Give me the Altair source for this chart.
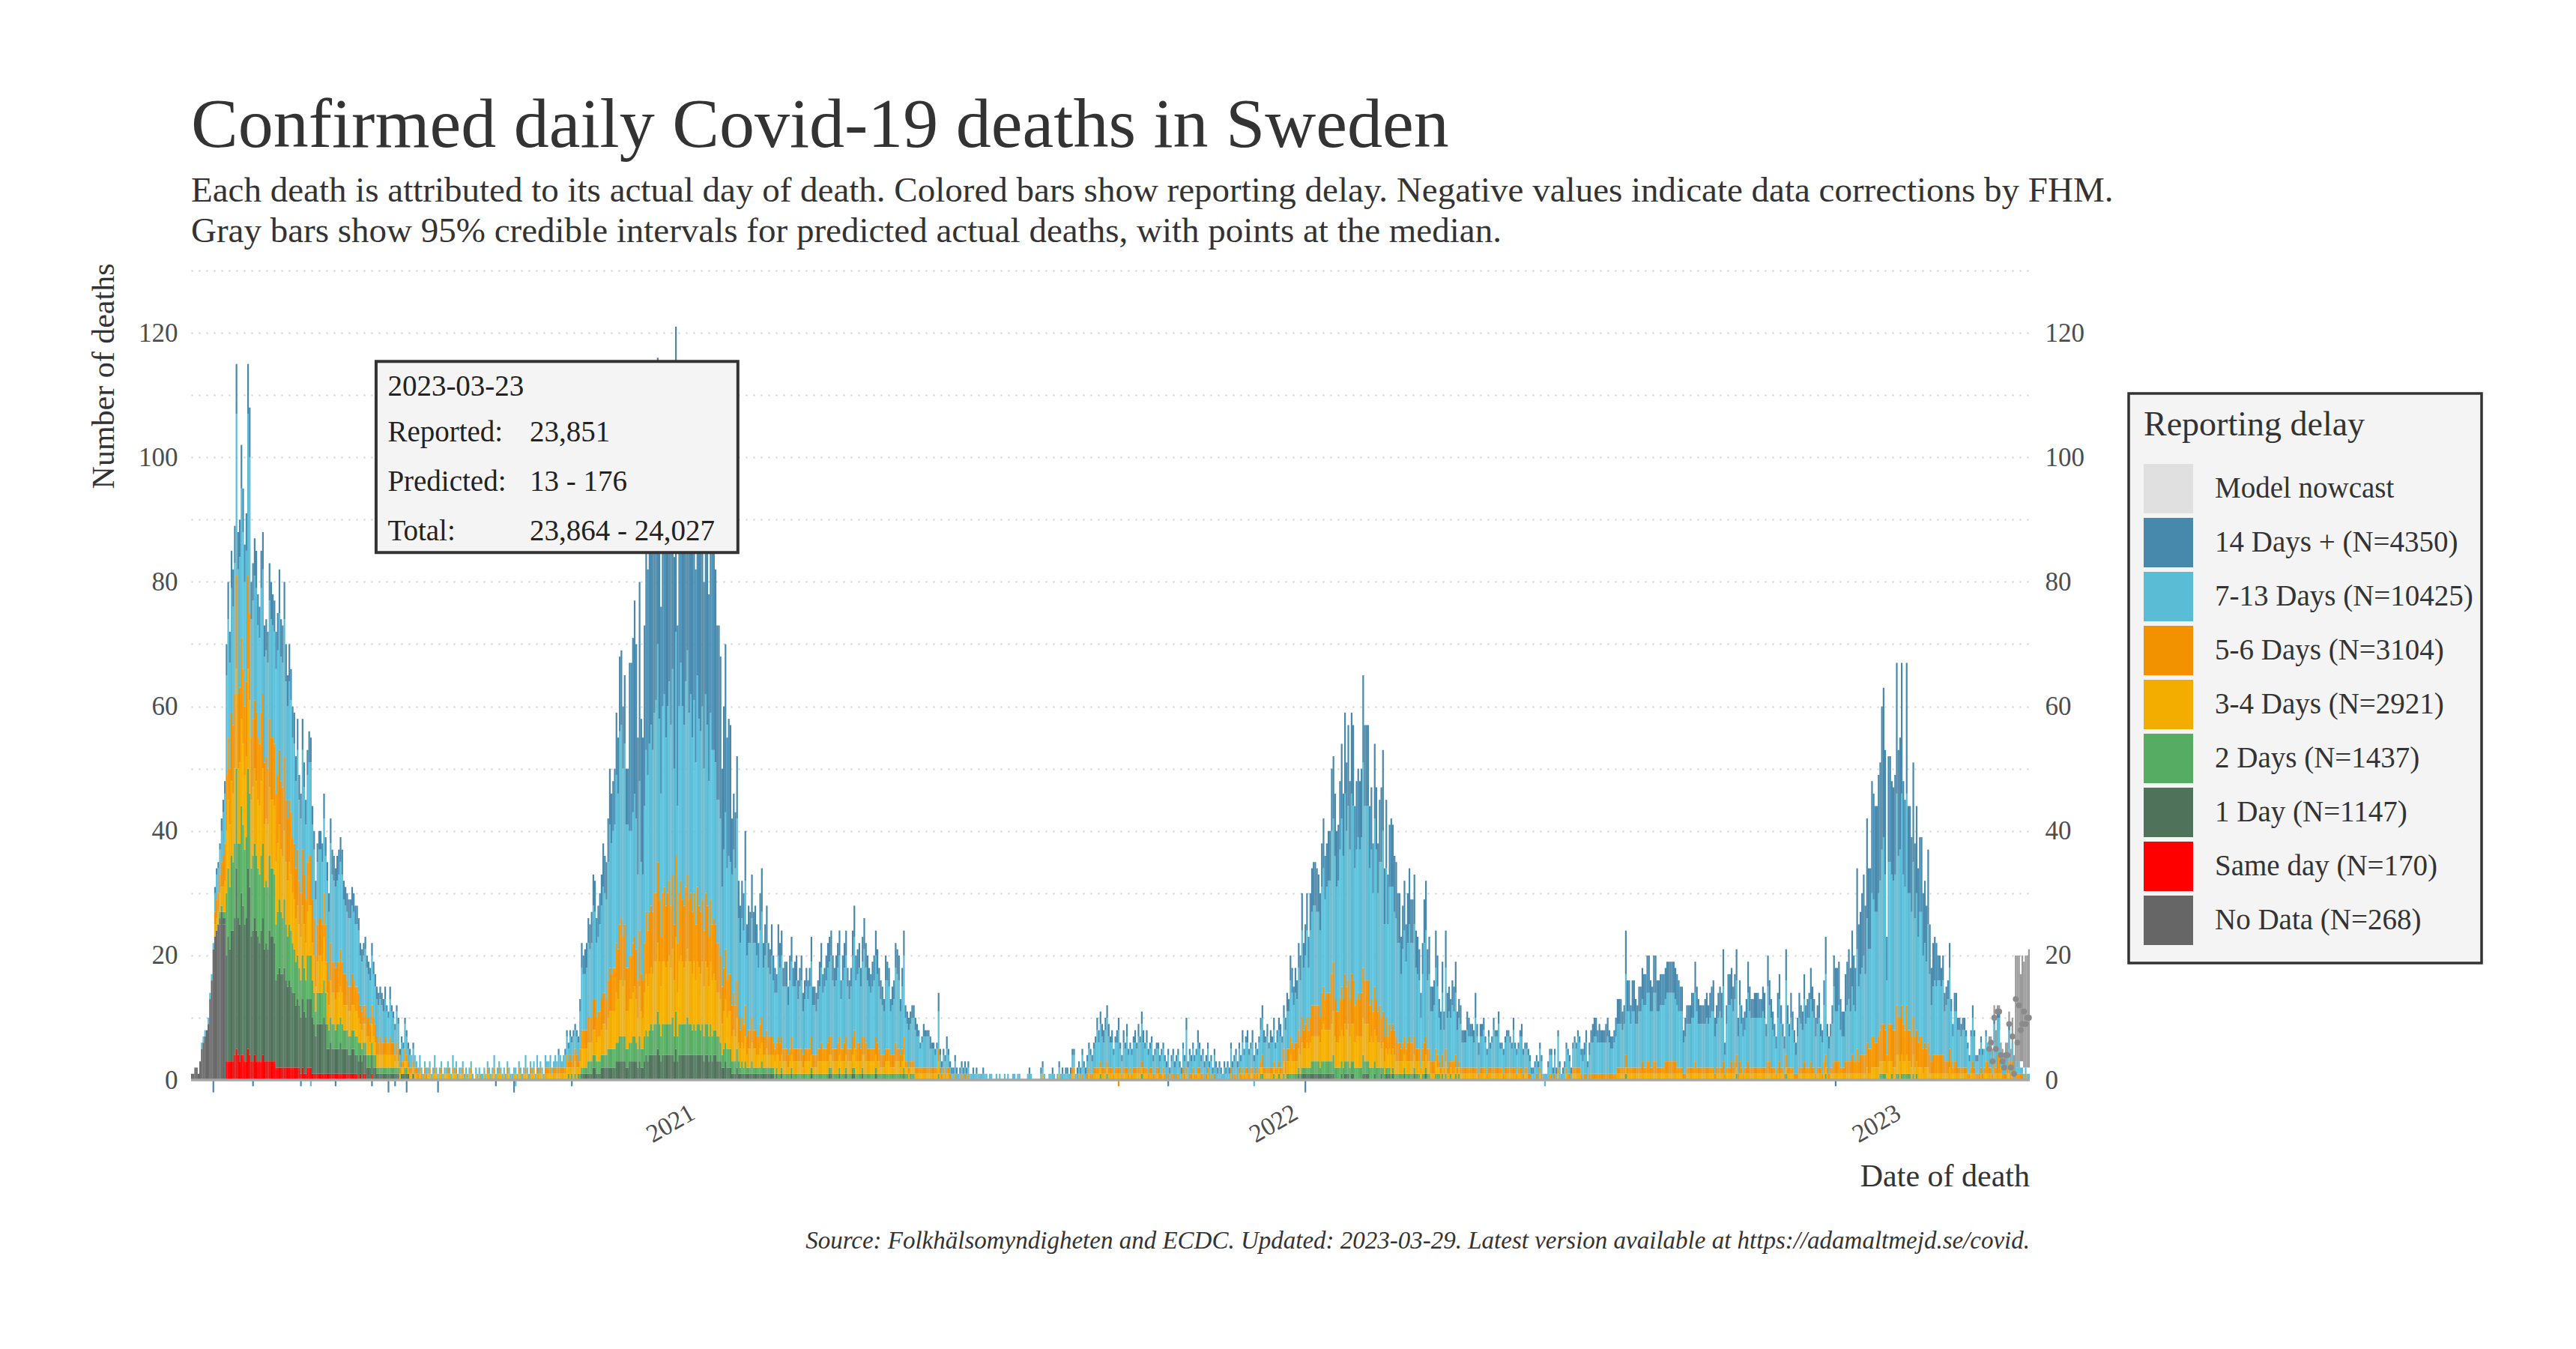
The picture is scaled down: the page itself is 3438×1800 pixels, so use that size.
import altair as alt
import numpy as np
import pandas as pd

FONT = "Liberation Serif"
START = "2020-03-11"

# ---- daily reported deaths by date of death ----
totals_2020 = [
    1, 1, 2, 2, 1, 3, 6, 7, 8, 8,
    10, 14, 17, 22, 31, 34, 35, 38, 42, 45,
    48, 70, 80, 72, 85, 82, 89, 115, 88, 90,
    102, 95, 86, 91, 115, 108, 80, 83, 87, 85,
    78, 76, 85, 88, 73, 74, 72, 83, 80, 78,
    77, 72, 75, 82, 74, 73, 80, 70, 65, 70,
    66, 60, 59, 52, 58, 49, 46, 58, 51, 45,
    53, 56, 55, 44, 40, 32, 38, 40, 40, 38,
    46, 39, 35, 30, 42, 37, 36, 34, 36, 37,
    39, 37, 32, 31, 30, 29, 29, 31, 30, 28,
    28, 26, 22, 21, 22, 23, 20, 19, 18, 22,
    19, 17, 15, 14, 15, 14, 13, 15, 12, 11,
    15, 12, 11, 9, 12, 10, 5, 7, 6, 10,
    8, 6, 5, 4, 6, 4, 3, 2, 4, 2,
    1, 3, 2, 2, 3, 1, 2, 4, 2, 1,
    2, 3, 1, 2, 2, 3, 2, 1, 4, 2,
    3, 1, 2, 2, 3, 1, 2, 1, 2, 3,
    1, 0, 2, 1, 2, 1, 1, 2, 1, 3,
    2, 1, 2, 4, 1, 2, 3, 2, 1, 2,
    1, 3, 2, 1, 1, 2, 2, 1, 3, 2,
    1, 2, 4, 2, 1, 3, 2, 3, 1, 4,
    2, 3, 2, 1, 4, 3, 3, 4, 2, 3,
    4, 3, 5, 4, 3, 4, 5, 8, 6, 8,
    7, 8, 9, 8, 7, 13, 22, 20, 21, 22,
    26, 25, 27, 33, 32, 26, 28, 30, 33, 38,
    36, 35, 42, 50, 46, 48, 50, 59, 55, 68,
    69, 60, 65, 50, 50, 67, 67, 71, 77, 70,
    55, 80, 58, 55, 73, 88, 82, 90, 95, 88,
    98, 102, 116, 96, 76, 100, 104, 92, 99, 106,
    95, 110, 84, 121, 73, 100,
]
totals_2021 = [
    108, 97, 92, 104, 112, 95, 100, 88, 98, 82,
    105, 94, 90, 96, 80, 99, 92, 78, 95, 86,
    85, 82, 73, 73, 68, 50, 60, 70, 55, 58,
    57, 42, 46, 43, 52, 32, 28, 32, 30, 40,
    25, 28, 27, 33, 27, 28, 25, 22, 30, 34,
    22, 25, 28, 22, 21, 25, 20, 18, 17, 25,
    22, 24, 18, 19, 19, 15, 20, 23, 18, 19,
    20, 16, 18, 20, 14, 16, 18, 16, 18, 23,
    15, 15, 14, 16, 19, 22, 17, 18, 20, 22,
    23, 24, 20, 18, 20, 22, 24, 16, 20, 22,
    24, 18, 16, 18, 24, 28, 20, 21, 22, 18,
    23, 26, 22, 20, 18, 17, 19, 20, 24, 21,
    18, 16, 15, 13, 20, 19, 18, 13, 15, 16,
    22, 21, 20, 13, 18, 24, 12, 11, 10, 11,
    12, 12, 10, 9, 8, 6, 7, 9, 8, 8,
    8, 7, 6, 6, 5, 6, 14, 5, 3, 5,
    4, 7, 5, 3, 2, 2, 4, 2, 1, 2,
    3, 2, 3, 2, 3, 1, 1, 2, 1, 2,
    1, 1, 1, 2, 1, 1, 0, 1, 1, 0,
    0, 1, 0, 1, 0, 0, 1, 0, 1, 0,
    0, 1, 1, 0, 1, 1, 0, 0, 0, 0,
    1, 2, 1, 0, 0, 0, 0, 0, 2, 3,
    1, 0, 0, 1, 1, 2, 1, 0, 1, 3,
    1, 2, 1, 2, 2, 1, 2, 5, 5, 1,
    2, 3, 2, 5, 3, 2, 4, 6, 5, 4,
    6, 7, 10, 8, 11, 9, 8, 10, 12, 9,
    7, 8, 5, 7, 8, 10, 6, 4, 8, 6,
    9, 5, 6, 5, 7, 8, 6, 9, 7, 11,
    8, 6, 8, 5, 6, 7, 4, 5, 6, 6,
    4, 5, 6, 4, 3, 5, 2, 4, 5, 3,
    4, 5, 3, 2, 6, 4, 10, 3, 5, 4,
    6, 4, 5, 8, 6, 4, 5, 3, 4, 6,
    3, 4, 2, 5, 3, 2, 3, 2, 1, 3,
    2, 3, 2, 6, 3, 4, 5, 3, 6, 4,
    8, 5, 7, 8, 5, 6, 8, 4, 6, 5,
    7, 10, 12, 8, 7, 9, 6, 8, 7, 10,
    6, 8, 10, 9, 7,
]
totals_2022 = [
    12, 10, 14, 13, 20, 18, 15, 18, 16, 22,
    20, 30, 22, 25, 30, 23, 30, 34, 35, 35,
    34, 33, 30, 38, 42, 36, 38, 40, 40, 50,
    52, 46, 40, 41, 48, 54, 46, 59, 51, 57,
    48, 59, 57, 44, 48, 50, 48, 50, 65, 57,
    57, 57, 44, 47, 38, 54, 47, 38, 45, 47,
    53, 34, 45, 33, 41, 42, 41, 36, 35, 30,
    30, 23, 28, 32, 25, 30, 34, 29, 29, 33,
    24, 23, 21, 14, 22, 29, 32, 21, 23, 15,
    15, 16, 24, 20, 13, 11, 19, 11, 24, 14,
    15, 13, 16, 15, 19, 11, 13, 12, 8, 8,
    8, 11, 10, 9, 9, 8, 14, 9, 6, 9,
    9, 10, 7, 5, 8, 6, 7, 10, 8, 8,
    11, 6, 6, 5, 7, 8, 8, 7, 6, 10,
    6, 5, 6, 8, 9, 5, 6, 6, 5, 4,
    2, 2, 3, 4, 3, 6, 4, 1, 1, 1,
    3, 5, 5, 2, 5, 2, 8, 3, 1, 2,
    3, 6, 5, 4, 2, 6, 7, 6, 8, 7,
    5, 5, 6, 8, 3, 6, 8, 9, 10, 10,
    8, 9, 8, 8, 8, 9, 10, 8, 7, 7,
    8, 10, 13, 13, 13, 11, 12, 24, 16, 16,
    12, 16, 16, 13, 12, 15, 15, 18, 17, 17,
    20, 20, 16, 15, 20, 20, 16, 16, 17, 17,
    17, 18, 19, 19, 19, 19, 19, 18, 17, 16,
    15, 15, 8, 10, 12, 12, 12, 14, 14, 19,
    15, 13, 12, 12, 12, 13, 14, 12, 14, 15,
    16, 10, 12, 14, 15, 14, 21, 6, 12, 17,
    17, 18, 15, 17, 21, 10, 16, 12, 10, 11,
    13, 19, 15, 13, 13, 14, 14, 14, 13, 13,
    15, 14, 9, 20, 16, 13, 11, 9, 7, 14,
    17, 12, 9, 7, 21, 12, 9, 14, 11, 8,
    6, 10, 14, 12, 11, 17, 12, 13, 14, 18,
    15, 13, 10, 12, 14, 9, 8, 16, 23, 9,
    7, 9, 12, 20, 18, 18, 19, 13, 11, 11,
    17, 19, 21, 18, 24, 20, 18, 34, 25, 27,
    30, 33, 28, 42, 34, 34, 48, 46, 44, 44,
    49, 51, 60, 63, 53,
]
totals_2023 = [
    23, 52, 52, 48, 47, 49, 67, 53, 55, 67,
    48, 45, 67, 44, 44, 39, 51, 38, 44, 34,
    39, 39, 30, 32, 28, 37, 25, 18, 22, 23,
    22, 20, 20, 18, 20, 14, 15, 16, 22, 13,
    9, 14, 14, 10, 10, 9, 10, 10, 8, 6,
    4, 8, 12, 8, 4, 4, 5, 7, 5, 5,
    8, 6, 5, 5, 3, 10, 5, 11, 11, 4,
    3, 2, 3, 4, 9, 2, 6, 1, 3, 2,
    3, 2, 2, 1, 2, 1, 1,
]
# first days without reporting information ("No Data")
no_data_first_days = [1, 1, 2, 2, 1, 3, 5, 6, 7, 8, 9, 13, 16, 21, 23, 24, 25, 25, 26, 25, 25]

# ---- monthly composition of reporting delay ----
share_same = [0.00, 0.04, 0.03, 0.02, 0.02, 0.00, 0.00, 0.00, 0.00, 0.00,
              0.00, 0.00, 0.00, 0.00, 0.00, 0.00, 0.00, 0.00, 0.00, 0.00,
              0.00, 0.00, 0.00, 0.00, 0.00, 0.00, 0.00, 0.00, 0.00, 0.00,
              0.00, 0.00, 0.00, 0.00, 0.00, 0.00, 0.00]
share_1d = [0.05, 0.25, 0.20, 0.12, 0.08, 0.05, 0.05, 0.04, 0.05, 0.04,
            0.04, 0.03, 0.02, 0.02, 0.02, 0.02, 0.00, 0.00, 0.01, 0.01,
            0.01, 0.01, 0.02, 0.01, 0.01, 0.01, 0.02, 0.02, 0.01, 0.01,
            0.01, 0.00, 0.00, 0.00, 0.00, 0.00, 0.00]
share_2d = [0.05, 0.14, 0.13, 0.10, 0.08, 0.08, 0.08, 0.07, 0.06, 0.05,
            0.05, 0.05, 0.05, 0.05, 0.04, 0.05, 0.05, 0.05, 0.04, 0.04,
            0.04, 0.04, 0.05, 0.04, 0.03, 0.03, 0.03, 0.03, 0.02, 0.02,
            0.02, 0.02, 0.02, 0.01, 0.01, 0.01, 0.02]
share_34 = [0.20, 0.14, 0.14, 0.14, 0.15, 0.20, 0.20, 0.20, 0.13, 0.10,
            0.10, 0.10, 0.10, 0.10, 0.10, 0.12, 0.15, 0.15, 0.10, 0.10,
            0.10, 0.12, 0.13, 0.10, 0.07, 0.07, 0.08, 0.08, 0.05, 0.05,
            0.05, 0.05, 0.05, 0.04, 0.05, 0.06, 0.10]
share_56 = [0.25, 0.13, 0.15, 0.15, 0.17, 0.20, 0.20, 0.20, 0.14, 0.11,
            0.11, 0.12, 0.12, 0.12, 0.12, 0.15, 0.15, 0.15, 0.12, 0.12,
            0.12, 0.13, 0.15, 0.13, 0.10, 0.10, 0.12, 0.12, 0.08, 0.08,
            0.08, 0.10, 0.10, 0.10, 0.12, 0.15, 0.25]
share_713 = [0.35, 0.23, 0.27, 0.37, 0.40, 0.37, 0.37, 0.39, 0.45, 0.30,
             0.32, 0.50, 0.53, 0.53, 0.55, 0.46, 0.45, 0.45, 0.55, 0.55,
             0.55, 0.52, 0.45, 0.50, 0.54, 0.54, 0.58, 0.58, 0.56, 0.56,
             0.56, 0.58, 0.58, 0.47, 0.50, 0.60, 0.55]
share_14 = [0.10, 0.07, 0.08, 0.10, 0.10, 0.10, 0.10, 0.10, 0.17, 0.40,
            0.38, 0.20, 0.18, 0.18, 0.17, 0.20, 0.20, 0.20, 0.18, 0.18,
            0.18, 0.18, 0.20, 0.22, 0.25, 0.25, 0.17, 0.17, 0.28, 0.28,
            0.28, 0.25, 0.25, 0.38, 0.32, 0.18, 0.08]

# ---- negative values (data corrections) ----
neg_dates = ["2020-03-24", "2020-04-17", "2020-05-16", "2020-05-22", "2020-06-06",
             "2020-06-28", "2020-07-08", "2020-07-12", "2020-07-19", "2020-08-07",
             "2020-09-11", "2020-09-22", "2020-09-23", "2020-10-27", "2021-09-23",
             "2021-10-23", "2021-12-14", "2022-01-14", "2022-06-08", "2022-12-01"]
neg_delay = [7, 7, 7, 6, 7, 7, 7, 7, 7, 7, 7, 7, 6, 7, 5, 7, 6, 7, 6, 7]
neg_values = [-2, -1, -1, -1, -1, -1, -2, -1, -2, -2, -1, -2, -1, -1, -1, -1, -1, -2, -1, -1]

# ---- model nowcast (last 25 days) ----
nowcast_start = "2023-03-04"
nowcast_median = [5, 6, 3, 10, 5, 11, 11, 4, 3, 2, 4, 4, 9, 2, 7, 1, 13, 6, 12, 8, 9, 11, 9, 10, 10]
nowcast_low = [4, 4, 2, 6, 3, 7, 8, 2, 1, 1, 2, 2, 5, 1, 4, 0, 3, 2, 3, 3, 3, 2, 2, 2, 2]
nowcast_high = [7, 7, 5, 12, 8, 12, 12, 6, 5, 4, 6, 6, 11, 5, 10, 4, 20, 20, 20, 17, 20, 19, 20, 20, 21]

# ---- legend ----
legend_labels = ["Model nowcast", "14 Days + (N=4350)", "7-13 Days (N=10425)", "5-6 Days (N=3104)",
                 "3-4 Days (N=2921)", "2 Days (N=1437)", "1 Day (N=1147)", "Same day (N=170)",
                 "No Data (N=268)"]
legend_colors = ["#E0E0E0", "#4689AD", "#5BBCD6", "#F39200", "#F2AD00", "#55AC62", "#4E725A",
                 "#FF0000", "#666666"]
stack_labels = ["No Data (N=268)", "Same day (N=170)", "1 Day (N=1147)", "2 Days (N=1437)",
                "3-4 Days (N=2921)", "5-6 Days (N=3104)", "7-13 Days (N=10425)", "14 Days + (N=4350)"]

# ---- x-axis tick labels ----
year_ticks = ["2021-01-01", "2022-01-01", "2023-01-01"]
year_labels = ["2021", "2022", "2023"]

tip_labels = ["2023-03-23", "Reported:", "Predicted:", "Total:", "23,851", "13 - 176", "23,864 - 24,027"]
tip_dates = ["2020-07-08", "2020-07-08", "2020-07-08", "2020-07-08", "2020-10-02", "2020-10-02", "2020-10-02"]
tip_values = [111.4, 104.0, 96.0, 88.1, 104.0, 96.0, 88.1]

# ================= build tables =================
totals = totals_2020 + totals_2021 + totals_2022 + totals_2023
dates = pd.date_range(START, periods=len(totals), freq="D")
months = [str(p) for p in pd.period_range("2020-03", "2023-03", freq="M")]
share_table = {m: [share_same[i], share_1d[i], share_2d[i], share_34[i], share_56[i], share_713[i], share_14[i]]
               for i, m in enumerate(months)}


def iso(ts):
    return ts.strftime("%Y-%m-%dT%H:%M:%SZ")


def split(n, shares):
    s = np.array(shares, dtype=float)
    s = s / s.sum()
    raw = n * s
    base = np.floor(raw).astype(int)
    rem = int(n - base.sum())
    keys = sorted(range(len(s)), key=lambda k: (-(raw[k] - base[k]), -s[k]))
    for k in keys[:rem]:
        base[k] += 1
    return base


rows = []
for i, (dt, tot) in enumerate(zip(dates, totals)):
    nd = no_data_first_days[i] if i < len(no_data_first_days) else 0
    nd = min(nd, tot)
    parts = split(tot - nd, share_table[dt.strftime("%Y-%m")])
    vals = [nd] + list(parts)
    for k, v in enumerate(vals):
        if v > 0:
            rows.append({"date": iso(dt), "end": iso(dt + pd.Timedelta(days=1)),
                         "cat": stack_labels[k], "ord": k, "n": int(v)})
for d, k, v in zip(neg_dates, neg_delay, neg_values):
    t = pd.Timestamp(d)
    rows.append({"date": iso(t), "end": iso(t + pd.Timedelta(days=1)),
                 "cat": stack_labels[k], "ord": k, "n": v})
bar_df = pd.DataFrame(rows)

nd_dates = pd.date_range(nowcast_start, periods=len(nowcast_median), freq="D")
now_df = pd.DataFrame({
    "date": [iso(t) for t in nd_dates],
    "end": [iso(t + pd.Timedelta(days=1)) for t in nd_dates],
    "mid": [iso(t + pd.Timedelta(hours=12)) for t in nd_dates],
    "low": nowcast_low, "high": nowcast_high, "med": nowcast_median,
})

tip_df = pd.DataFrame({"label": tip_labels, "x": [d + "T00:00:00Z" for d in tip_dates], "y": tip_values})
box_df = pd.DataFrame({"x0": ["2020-07-01T00:00:00Z"], "x1": ["2021-02-05T00:00:00Z"], "y0": [84.7], "y1": [115.4]})
year_df = pd.DataFrame({"x": [d + "T00:00:00Z" for d in year_ticks], "label": year_labels})

# ================= chart =================
W, H = 2454, 1105
xscale = alt.Scale(type="utc",
                   domain=[alt.DateTime(year=2020, month=3, date=11, utc=True),
                           alt.DateTime(year=2023, month=3, date=29, utc=True)])
yscale = alt.Scale(domain=[-3, 130], nice=False, zero=False)
grid_vals = list(range(0, 140, 10))
lab_expr = "datum.value % 20 === 0 && datum.value <= 120 ? datum.label : ''"

yaxis_left = alt.Axis(
    values=grid_vals, labelExpr=lab_expr, grid=True, gridColor="#cfcfcf", gridDash=[2, 8],
    gridWidth=2, domain=False, ticks=False, labelFont=FONT, labelFontSize=35,
    labelColor="#4d4d4d", labelPadding=18,
    title="Number of deaths", titleFont=FONT, titleFontSize=42, titleFontWeight="normal",
    titleColor="#333333", titleAngle=270, titleX=-117, titleY=-10, titleAlign="right",
    titleBaseline="middle",
)
yaxis_right = alt.Axis(
    orient="right", values=grid_vals, labelExpr=lab_expr, grid=False, domain=False, ticks=False,
    labelFont=FONT, labelFontSize=35, labelColor="#4d4d4d", labelPadding=20, title=None,
)

legend = alt.Legend(
    title="Reporting delay", orient="none", legendX=2586, legendY=164, padding=20,
    symbolType="square", symbolSize=4356, symbolStrokeWidth=0, symbolOpacity=1,
    labelFont=FONT, labelFontSize=39, labelColor="#333333", labelOffset=29, labelLimit=0,
    titleFont=FONT, titleFontSize=46, titleFontWeight="normal", titleColor="#333333",
    titlePadding=28, titleLimit=800, rowPadding=6,
)

intervals = alt.Chart(now_df).mark_bar(color="#9a9a9a").encode(
    x=alt.X("date:T", scale=xscale, axis=None),
    x2="end:T",
    y=alt.Y("low:Q", scale=yscale, axis=None),
    y2="high:Q",
)

bars = alt.Chart(bar_df).transform_stack(
    stack="n", groupby=["date"], sort=[alt.SortField("ord", order="ascending")],
    as_=["y0", "y1"], offset="zero",
).mark_bar().encode(
    x=alt.X("date:T", scale=xscale, axis=None),
    x2="end:T",
    y=alt.Y("y0:Q", scale=yscale, axis=yaxis_left),
    y2="y1:Q",
    color=alt.Color("cat:N", scale=alt.Scale(domain=legend_labels, range=legend_colors), legend=legend),
)

zero_rule = alt.Chart(pd.DataFrame({"y": [0]})).mark_rule(color="#a6a6a6", strokeWidth=3.5).encode(
    y=alt.Y("y:Q", scale=yscale, axis=yaxis_right)
)

points = alt.Chart(now_df).mark_circle(size=60, color="#8a8a8a", opacity=1).encode(
    x=alt.X("mid:T", scale=xscale, axis=None),
    y=alt.Y("med:Q", scale=yscale, axis=None),
)

box = alt.Chart(box_df).mark_rect(fill="#F4F4F4", stroke="#333333", strokeWidth=4).encode(
    x=alt.X("x0:T", scale=xscale, axis=None), x2="x1:T",
    y=alt.Y("y0:Q", scale=yscale, axis=None), y2="y1:Q",
)

tip_text = alt.Chart(tip_df).mark_text(align="left", baseline="middle", font=FONT, fontSize=39,
                                       color="#222222").encode(
    x=alt.X("x:T", scale=xscale, axis=None),
    y=alt.Y("y:Q", scale=yscale, axis=None),
    text="label:N",
)

year_text = alt.Chart(year_df).mark_text(
    align="right", baseline="top", angle=330, dx=10, font=FONT, fontSize=34, color="#4d4d4d"
).encode(
    x=alt.X("x:T", scale=xscale, axis=None),
    y=alt.value(H + 7),
    text="label:N",
)

x_title = alt.Chart(pd.DataFrame({"a": [0]})).mark_text(
    align="right", baseline="alphabetic", font=FONT, fontSize=42, color="#333333"
).encode(x=alt.value(W), y=alt.value(H + 117), text=alt.value("Date of death"))

legend_bg = alt.Chart(pd.DataFrame({"a": [0]})).mark_rect(
    fill="#F4F4F4", stroke="#333333", strokeWidth=3.5
).encode(x=alt.value(2586), x2=alt.value(3057), y=alt.value(164), y2=alt.value(924))

caption = alt.Chart(pd.DataFrame({"a": [0]})).mark_text(
    align="right", baseline="alphabetic", font=FONT, fontSize=33, fontStyle="italic", color="#333333"
).encode(
    x=alt.value(W), y=alt.value(1305),
    text=alt.value("Source: Folkhälsomyndigheten and ECDC. Updated: 2023-03-29. "
                   "Latest version available at https://adamaltmejd.se/covid."),
)

chart = alt.layer(
    legend_bg, intervals, bars, zero_rule, points, box, tip_text, year_text, x_title, caption
).resolve_axis(y="independent").properties(
    width=W, height=H,
    padding={"left": 247, "top": 353, "right": 719, "bottom": 326},
    autosize=alt.AutoSizeParams(type="none"),
    title=alt.TitleParams(
        text="Confirmed daily Covid-19 deaths in Sweden",
        subtitle=["Each death is attributed to its actual day of death. Colored bars show reporting delay. "
                  "Negative values indicate data corrections by FHM.",
                  "Gray bars show 95% credible intervals for predicted actual deaths, with points at the median."],
        anchor="start", frame="group", font=FONT, fontSize=94, fontWeight="normal", color="#333333",
        subtitleFont=FONT, subtitleFontSize=47, subtitleColor="#333333", subtitleLineHeight=54,
        subtitlePadding=16, offset=18,
    ),
).configure(font=FONT, background="white").configure_view(strokeWidth=0, stroke="transparent")

chart.save("out.html", embed_options={"renderer": "svg", "actions": False})
